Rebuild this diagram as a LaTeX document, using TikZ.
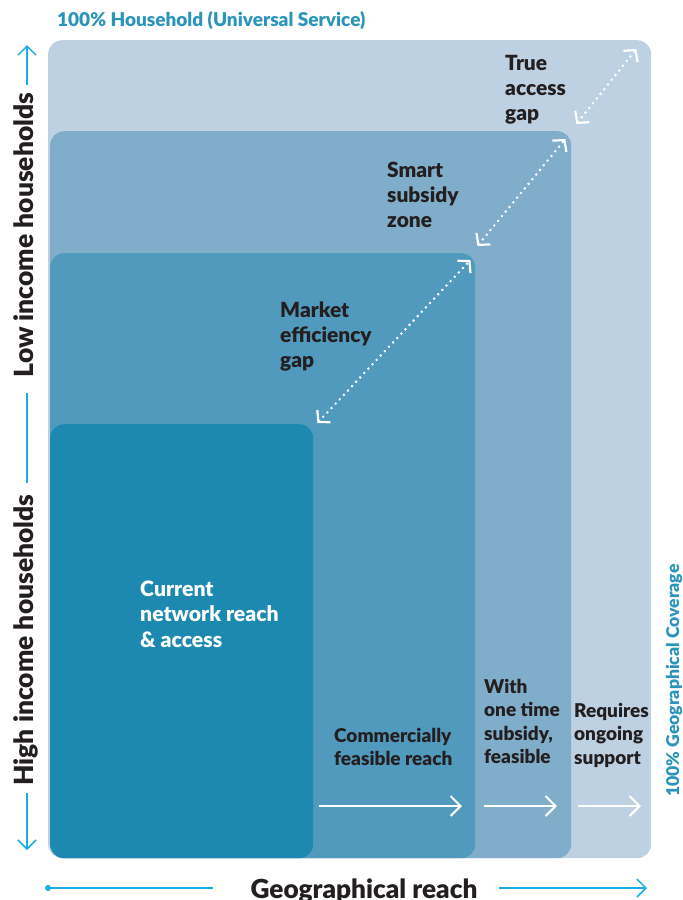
\documentclass[tikz,border=0pt]{standalone}
\usepackage{fontspec}
\setmainfont{Lato}[BoldFont={Lato Black}]
\usetikzlibrary{arrows.meta,calc}

\definecolor{zoneA}{HTML}{BDD1E2}
\definecolor{zoneB}{HTML}{7FADCA}
\definecolor{zoneC}{HTML}{5199BD}
\definecolor{zoneD}{HTML}{1D89B1}
\definecolor{axiscyan}{HTML}{1AACE4}
\definecolor{tealtext}{HTML}{2A94BB}
\definecolor{ink}{HTML}{231F20}

% fixed height for the first line of every label, so that the top of a
% label lies a known distance above its first baseline
\newcommand\firstln{\rule{0pt}{17pt}}

\begin{document}
\begin{tikzpicture}[x=1pt,y=-1pt,
  zone/.style={rectangle, rounded corners=14pt, inner sep=0pt, anchor=north west},
  biglbl/.style={anchor=north west, inner sep=0pt, align=left, text=ink,
    font=\bfseries\fontsize{20.9}{25}\selectfont},
  lowlbl/.style={anchor=north west, inner sep=0pt, align=left, text=ink,
    font=\bfseries\fontsize{19}{23.5}\selectfont},
  axislbl/.style={inner sep=0pt, text=ink, font=\bfseries\fontsize{26.4}{30}\selectfont},
  edgelbl/.style={inner sep=0pt, text=tealtext, font=\bfseries\fontsize{19}{20}\selectfont},
  axisline/.style={draw=axiscyan, line width=1.5pt},
  axistip/.style={-{Straight Barb[length=9pt,width=18pt]}},
  reacharrow/.style={draw=white, line width=2pt, -{Straight Barb[length=10pt,width=20pt]}},
  gaparrow/.style={draw=white, line width=2.8pt, line cap=round, dash pattern=on 0pt off 6pt,
    {Straight Barb[length=8pt,width=18pt,line width=2.2pt]}-{Straight Barb[length=8pt,width=18pt,line width=2.2pt]}},
]
\useasboundingbox (0,0) rectangle (683,900);

% nested coverage zones, all sharing the same bottom edge
\node[zone, fill=zoneA, minimum width=603pt, minimum height=818pt] (b1) at (48,40) {};
\node[zone, fill=zoneB, minimum width=521pt, minimum height=727pt] (b2) at (50,131) {};
\node[zone, fill=zoneC, minimum width=425pt, minimum height=605pt] (b3) at (50,253) {};
\node[zone, fill=zoneD, minimum width=263pt, minimum height=434pt] (b4) at (50,424) {};

% edge captions
\node[edgelbl, anchor=base west] (hh) at (57,26) {100\% Household (Universal Service)};
\node[edgelbl, anchor=base west, rotate=90, font=\bfseries\fontsize{17.6}{20}\selectfont] (geo) at (679,797) {100\% Geographical Coverage};

% zone labels
\node[biglbl] (tag) at (505,53) {\firstln True\\access\\gap};
\node[biglbl] (ssz) at (387,160) {\firstln Smart\\subsidy\\zone};
\node[biglbl] (meg) at (280,300) {\firstln Market\\efficiency\\gap};
\node[lowlbl, text=white, font=\bfseries\fontsize{21.2}{25.5}\selectfont] (cur) at (140,579) {\firstln Current\\network reach\\\& access};
\node[lowlbl] (cfr) at (334,725) {\firstln Commercially\\feasible reach};
\node[lowlbl] (ots) at (484,676) {\firstln With\\one time\\subsidy,\\feasible};
\node[lowlbl] (ros) at (574,700) {\firstln Requires\\ongoing\\support};

% gaps between successive zones
\coordinate (gA1) at ($(b4.north east)+(4,-1)$);
\coordinate (gA2) at ($(b3.north east)+(-5,7)$);
\coordinate (gB1) at ($(b3.north east)+(2,-7)$);
\coordinate (gB2) at ($(b2.north east)+(-6,8)$);
\coordinate (gC1) at ($(b2.north east)+(5,-7)$);
\coordinate (gC2) at ($(b1.north east)+(-15,9)$);
\draw[gaparrow] (gA1) -- (gA2);
\draw[gaparrow] (gB1) -- (gB2);
\draw[gaparrow] (gC1) -- (gC2);

% reach arrows along the bottom
\coordinate (r1a) at (319,806); \coordinate (r1b) at (462,806);
\coordinate (r2a) at (484,806); \coordinate (r2b) at (557,806);
\coordinate (r3a) at (578,806); \coordinate (r3b) at (641,806);
\draw[reacharrow] (r1a) -- (r1b);
\draw[reacharrow] (r2a) -- (r2b);
\draw[reacharrow] (r3a) -- (r3b);

% vertical axis: household income
\node[axislbl, anchor=base, rotate=90] (low) at (33,235) {Low income households};
\node[axislbl, anchor=base, rotate=90] (high) at (33,640) {High income households};
\coordinate (ytop) at (27,45);   \coordinate (y1) at (27,85);
\coordinate (y2) at (27,393);    \coordinate (y3) at (27,483);
\coordinate (y4) at (27,793);    \coordinate (ybot) at (27,850);
\draw[axisline, axistip] (y1) -- (ytop);
\draw[axisline] (y2) -- (y3);
\draw[axisline, axistip] (y4) -- (ybot);

% horizontal axis: geographical reach
\node[axislbl, anchor=base, font=\bfseries\fontsize{26.2}{30}\selectfont] (reach) at (364,898) {Geographical reach};
\coordinate (x0) at (48,888);   \coordinate (x1) at (213,888);
\coordinate (x2) at (499,888);  \coordinate (x3) at (647,888);
\fill[axiscyan] (x0) circle (3pt);
\draw[axisline] (x0) -- (x1);
\draw[axisline, axistip] (x2) -- (x3);
\end{tikzpicture}
\end{document}
